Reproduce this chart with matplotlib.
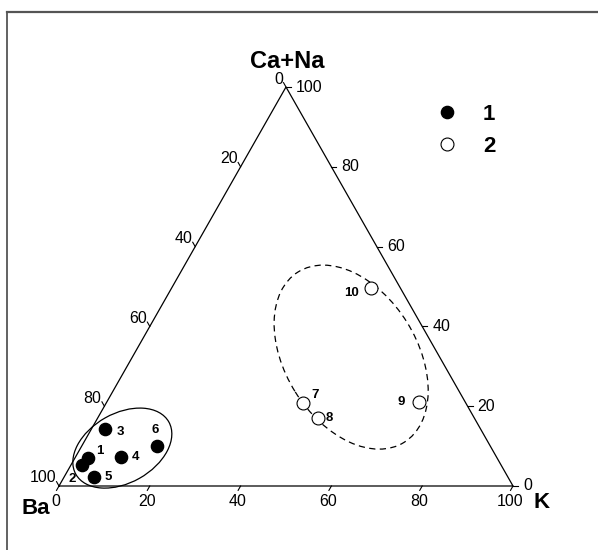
import numpy as np
import matplotlib
matplotlib.use("Agg")
import matplotlib.pyplot as plt
from matplotlib.patches import Ellipse
from matplotlib.lines import Line2D

plt.rcParams['font.family'] = ['Liberation Sans', 'DejaVu Sans']

# sample compositions, % (Ba, Ca+Na, K)
sample_ids = ['1', '2', '3', '4', '5', '6', '7', '8', '9', '10']
ba = [90.1, 92.3, 82.7, 82.6, 91.1, 73.4, 35.8, 34.5, 10.1, 6.5]
ca_na = [6.9, 5.3, 14.3, 7.3, 2.2, 9.9, 20.7, 17.1, 21.0, 49.7]
k = [3.0, 2.4, 3.0, 10.1, 6.7, 16.7, 43.5, 48.4, 68.9, 43.8]
group = [1, 1, 1, 1, 1, 1, 2, 2, 2, 2]
ticks = [0, 20, 40, 60, 80, 100]

# label offsets for the sample numbers (pixels)
label_offsets = [(12, 7), (-10, -14), (15, -3), (14, 0), (14, 0),
                 (-2, 16), (12, 8), (12, 0), (-18, 0), (-19, -5)]

# field envelopes: centre (K, Ca+Na), width, height, angle
envelopes = [
    dict(k=9.2, c=9.5, w=0.235, h=0.153, angle=29.4, ls='-'),
    dict(k=48.2, c=32.3, w=0.442, h=0.290, angle=-58.1, ls=(0, (5, 3.5))),
]

H = 399 / 454  # triangle height relative to base


def tern(kk, cc):
    """K%, Ca+Na% -> cartesian (Ba vertex at origin)."""
    kk = np.asarray(kk) / 100.0
    cc = np.asarray(cc) / 100.0
    return kk + cc / 2, cc * H


fig = plt.figure(figsize=(5.98, 5.5), dpi=100)
ax = fig.add_axes([0, 0, 1, 1])
ax.set_xlim(-59 / 454, 539 / 454)
ax.set_ylim((486 - 550) / 454, 486 / 454)
ax.axis('off')

# outer frame (only left and top visible)
fig.add_artist(Line2D([7 / 598, 7 / 598], [0, 1 - 11.5 / 550], color='#555555', lw=1.3, transform=fig.transFigure))
fig.add_artist(Line2D([7 / 598, 1], [1 - 11.5 / 550, 1 - 11.5 / 550], color='#555555', lw=1.6, transform=fig.transFigure))

# triangle
tx, ty = tern([0, 100, 0, 0], [0, 0, 100, 0])
ax.plot(tx, ty, color='black', lw=0.9, solid_joinstyle='miter')

px = 1 / 454
tl = 5 * px
left_dir = np.array([0.5, H]) / np.hypot(0.5, H)
right_dir = np.array([-0.5, H]) / np.hypot(0.5, H)

for t in ticks:
    # bottom axis: K
    x0, y0 = tern(t, 0)
    ax.plot([x0, x0 - tl * left_dir[0]], [y0, y0 - tl * left_dir[1]], color='black', lw=0.8)
    ax.annotate(str(t), (x0, y0), xytext=(-3, -15), textcoords='offset pixels',
                ha='center', va='center', fontsize=11.5)
    # left axis: Ba
    x0, y0 = tern(0, 100 - t)
    ax.plot([x0, x0 + tl * right_dir[0]], [y0, y0 + tl * right_dir[1]], color='black', lw=0.8)
    ax.annotate(str(t), (x0, y0), xytext=(-3, 8), textcoords='offset pixels',
                ha='right', va='center', fontsize=11.5)
    # right axis: Ca+Na
    x0, y0 = tern(100 - t, t)
    ax.plot([x0, x0 + tl], [y0, y0], color='black', lw=0.8)
    ax.annotate(str(t), (x0, y0), xytext=(10, 0), textcoords='offset pixels',
                ha='left', va='center', fontsize=11.5)

# envelopes
for e in envelopes:
    cx, cy = tern(e['k'], e['c'])
    ax.add_patch(Ellipse((cx, cy), e['w'], e['h'], angle=e['angle'], fill=False,
                         edgecolor='black', lw=0.9, linestyle=e['ls']))

# samples
x, y = tern(k, ca_na)
g = np.array(group)
ax.plot(x[g == 1], y[g == 1], 'o', ms=8.8, mfc='black', mec='black', ls='none', label='1')
ax.plot(x[g == 2], y[g == 2], 'o', ms=9.3, mfc='white', mec='black', mew=0.8, ls='none', label='2')

for sid, xi, yi, off in zip(sample_ids, x, y, label_offsets):
    ax.annotate(sid, (xi, yi), xytext=off, textcoords='offset pixels',
                ha='center', va='center', fontsize=9.5, fontweight='bold')

# vertex titles
ax.annotate('Ca+Na', tern(0, 100), xytext=(1, 26), textcoords='offset pixels',
            ha='center', va='center', fontsize=17, fontweight='bold')
ax.annotate('Ba', tern(0, 0), xytext=(-23, -22), textcoords='offset pixels',
            ha='center', va='center', fontsize=16, fontweight='bold')
ax.annotate('K', tern(100, 0), xytext=(29, -17), textcoords='offset pixels',
            ha='center', va='center', fontsize=16, fontweight='bold')

ax.legend(loc='upper left', bbox_to_anchor=(434 / 598, 1 - 104 / 550), frameon=False,
          prop={'weight': 'bold', 'size': 16}, handlelength=1.2,
          handletextpad=1.0, labelspacing=0.48, borderpad=0, borderaxespad=0,
          numpoints=1)

fig.savefig('out.png', dpi=100)
